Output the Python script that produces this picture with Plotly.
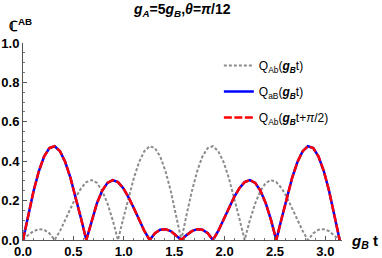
import plotly.graph_objects as go

# sample positions g_B t (0 .. pi)
t_vals = [0, 0.052, 0.105, 0.157, 0.209, 0.262, 0.314, 0.367, 0.419, 0.471,
          0.524, 0.576, 0.628, 0.681, 0.733, 0.785, 0.838, 0.890, 0.942, 0.995,
          1.047, 1.100, 1.152, 1.204, 1.257, 1.309, 1.361, 1.414, 1.466, 1.518,
          1.571, 1.623, 1.676, 1.728, 1.780, 1.833, 1.885, 1.937, 1.990, 2.042,
          2.094, 2.147, 2.199, 2.251, 2.304, 2.356, 2.409, 2.461, 2.513, 2.566,
          2.618, 2.670, 2.723, 2.775, 2.827, 2.880, 2.932, 2.985, 3.037, 3.089,
          3.142]

q_Ab = [0, 0.025, 0.045, 0.055, 0.052, 0.034, 0, 0.046, 0.102, 0.161,
        0.217, 0.263, 0.294, 0.304, 0.290, 0.250, 0.186, 0.101, 0, 0.109,
        0.217, 0.315, 0.396, 0.451, 0.476, 0.467, 0.424, 0.349, 0.249, 0.129,
        0, 0.129, 0.249, 0.349, 0.424, 0.467, 0.476, 0.451, 0.396, 0.315,
        0.217, 0.109, 0, 0.101, 0.186, 0.250, 0.290, 0.304, 0.294, 0.263,
        0.217, 0.161, 0.102, 0.046, 0, 0.034, 0.052, 0.055, 0.045, 0.025,
        0]

q_aB = [0, 0.129, 0.249, 0.349, 0.424, 0.467, 0.476, 0.451, 0.396, 0.315,
        0.217, 0.109, 0, 0.101, 0.186, 0.250, 0.290, 0.304, 0.294, 0.263,
        0.217, 0.161, 0.102, 0.046, 0, 0.034, 0.052, 0.055, 0.045, 0.025,
        0, 0.025, 0.045, 0.055, 0.052, 0.034, 0, 0.046, 0.102, 0.161,
        0.217, 0.263, 0.294, 0.304, 0.290, 0.250, 0.186, 0.101, 0, 0.109,
        0.217, 0.315, 0.396, 0.451, 0.476, 0.467, 0.424, 0.349, 0.249, 0.129,
        0]

q_Ab_shift = [0, 0.129, 0.249, 0.349, 0.424, 0.467, 0.476, 0.451, 0.396, 0.315,
              0.217, 0.109, 0, 0.101, 0.186, 0.250, 0.290, 0.304, 0.294, 0.263,
              0.217, 0.161, 0.102, 0.046, 0, 0.034, 0.052, 0.055, 0.045, 0.025,
              0, 0.025, 0.045, 0.055, 0.052, 0.034, 0, 0.046, 0.102, 0.161,
              0.217, 0.263, 0.294, 0.304, 0.290, 0.250, 0.186, 0.101, 0, 0.109,
              0.217, 0.315, 0.396, 0.451, 0.476, 0.467, 0.424, 0.349, 0.249, 0.129,
              0]

series_names = [
    "Q<sub>Ab</sub>(<b><i>g<sub>B</sub></i></b>t)",
    "Q<sub>aB</sub>(<b><i>g<sub>B</sub></i></b>t)",
    "Q<sub>Ab</sub>(<b><i>g<sub>B</sub></i></b>t+<i>π</i>/2)",
]

x_ticks = [0.0, 0.5, 1.0, 1.5, 2.0, 2.5, 3.0]
y_ticks = [0.0, 0.2, 0.4, 0.6, 0.8, 1.0]

FONT = "Liberation Sans, Arial, sans-serif"

fig = go.Figure()
fig.add_trace(go.Scatter(x=t_vals, y=q_Ab, mode="lines", name=series_names[0],
                         legendgroup="a",
                         line=dict(color="#8c8c8c", width=2, dash="3px,2px")))
fig.add_trace(go.Scatter(x=t_vals, y=q_aB, mode="lines", name=series_names[1],
                         legendgroup="b",
                         line=dict(color="#0000ff", width=2.5)))
fig.add_trace(go.Scatter(x=t_vals, y=q_Ab_shift, mode="lines", name=series_names[2],
                         legendgroup="c",
                         line=dict(color="#ff0000", width=2.5, dash="8px,2.5px")))

axis_common = dict(
    showline=True, linecolor="#555555", linewidth=1,
    showgrid=False, zeroline=False, automargin=False,
    ticks="inside", ticklen=4, tickcolor="#555555", tickwidth=1,
    tickfont=dict(family=FONT, size=13, color="black", weight="bold"),
)

fig.update_layout(
    width=382, height=258,
    margin=dict(l=23, r=40, t=43, b=18),
    paper_bgcolor="white", plot_bgcolor="white",
    font=dict(family=FONT, color="black"),
    showlegend=True,
    legend=dict(x=0.614, y=0.96, xanchor="left", yanchor="top",
                bgcolor="rgba(0,0,0,0)", font=dict(family=FONT, size=12),
                itemwidth=30, tracegroupgap=7),
    xaxis=dict(range=[0, 3.165], tickvals=x_ticks,
               ticktext=[f"{v:.1f}" for v in x_ticks], ticklabelstandoff=-1,
               minor=dict(ticks="inside", ticklen=2, dtick=0.1, tickcolor="#777777"),
               **axis_common),
    yaxis=dict(range=[0, 1.0], tickvals=y_ticks,
               ticktext=[f"{v:.1f}" for v in y_ticks], ticklabelstandoff=0,
               minor=dict(ticks="inside", ticklen=2, dtick=0.05, tickcolor="#777777"),
               **axis_common),
    title=dict(text="<b><i>g<sub>A</sub></i>=5<i>g<sub>B</sub></i>,<i>θ</i>=<i>π</i>/12</b>",
               x=0.477, xanchor="center", y=0.965, yanchor="middle",
               font=dict(family=FONT, size=14, color="black")),
)

fig.add_annotation(text="<b>ℂ<sup>AB</sup></b>", xref="paper", yref="paper",
                   x=-0.05, y=1.09, xanchor="left", yanchor="middle",
                   showarrow=False, font=dict(family=FONT, size=14, color="black"))
fig.add_annotation(text="<b><i>g<sub>B</sub></i> t</b>", xref="paper", yref="paper",
                   x=1.12, y=-0.01, xanchor="right", yanchor="middle",
                   showarrow=False, font=dict(family=FONT, size=15, color="black"))

fig.write_html("out.html", config={"displayModeBar": False},
               post_script="document.body.style.margin='0';")
